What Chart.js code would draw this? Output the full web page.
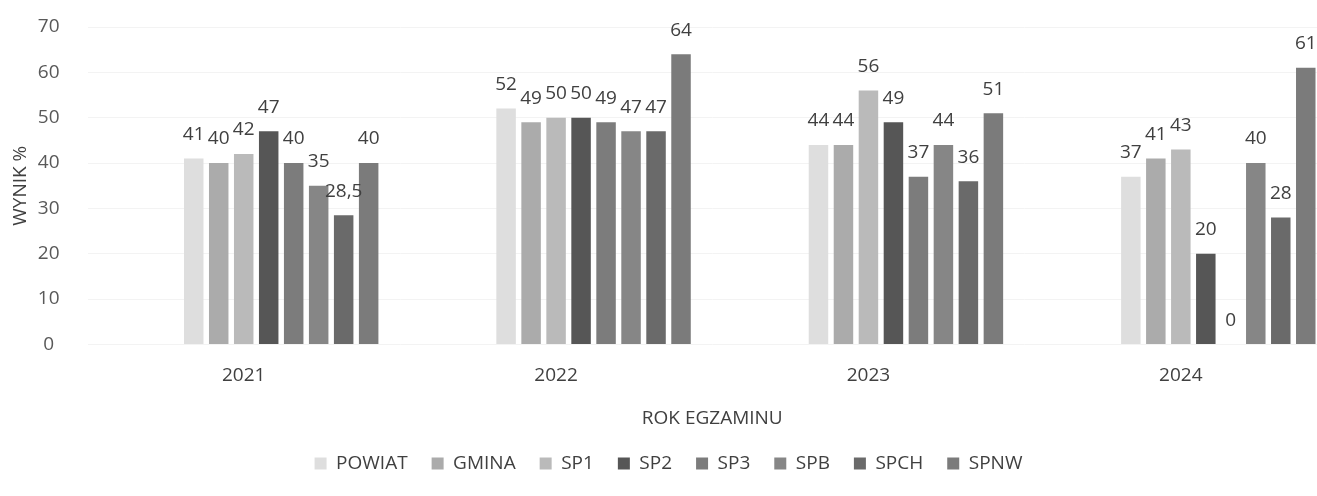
<!DOCTYPE html>
<html lang="pl">
<head>
<meta charset="utf-8">
<title>Wyniki egzaminu</title>
<script src="https://cdn.jsdelivr.net/npm/chart.js@4/dist/chart.umd.min.js"></script>
<style>
  html, body { margin: 0; padding: 0; background: #fff; overflow: hidden; }
  #wrap { position: relative; width: 1340px; height: 483px; }
</style>
</head>
<body>
<div id="wrap"><canvas id="chart"></canvas></div>
<script>
const years = ['2021', '2022', '2023', '2024'];

// wyniki w % dla każdej serii (kolejno lata 2021-2024)
const powiat = [41, 52, 44, 37];
const gmina  = [40, 49, 44, 41];
const sp1    = [42, 50, 56, 43];
const sp2    = [47, 50, 49, 20];
const sp3    = [40, 49, 37, 0];
const spb    = [35, 47, 44, 40];
const spch   = [28.5, 47, 36, 28];
const spnw   = [40, 64, 51, 61];

const seriesNames  = ['POWIAT', 'GMINA', 'SP1', 'SP2', 'SP3', 'SPB', 'SPCH', 'SPNW'];
const seriesValues = [powiat, gmina, sp1, sp2, sp3, spb, spch, spnw];
const seriesColors = ['#dedede', '#ababab', '#bababa', '#565656', '#7c7c7c', '#868686', '#6a6a6a', '#7b7b7b'];

const yTicks = [0, 10, 20, 30, 40, 50, 60, 70];

Chart.defaults.font.family = "'Open Sans', 'Noto Sans', sans-serif";
Chart.defaults.color = '#595959';

// w oryginalnym arkuszu przed seriami stoją trzy puste serie (przesuwają słupki w prawo)
const emptySeries = [0, 1, 2].map(i => ({
    label: '_empty' + i,
    data: years.map(() => null),
    backgroundColor: 'rgba(0,0,0,0)',
    isEmpty: true,
}));

const datasets = emptySeries.concat(seriesNames.map((name, i) => ({
    label: name,
    data: seriesValues[i],
    backgroundColor: seriesColors[i],
    borderWidth: 0,
})));

// etykiety wartości nad słupkami (przecinek dziesiętny)
const valueLabels = {
    id: 'valueLabels',
    afterDatasetsDraw(chart) {
        const ctx = chart.ctx;
        ctx.save();
        ctx.font = "19px 'Open Sans', sans-serif";
        ctx.fillStyle = '#404040';
        ctx.textAlign = 'center';
        ctx.textBaseline = 'middle';
        chart.data.datasets.forEach((ds, di) => {
            if (ds.isEmpty) return;
            const meta = chart.getDatasetMeta(di);
            meta.data.forEach((bar, j) => {
                const v = ds.data[j];
                if (v === null || v === undefined) return;
                ctx.fillText(String(v).replace('.', ','), bar.x, bar.y - 24);
            });
        });
        ctx.restore();
    }
};

new Chart(document.getElementById('chart'), {
    type: 'bar',
    data: { labels: years, datasets },
    options: {
        responsive: true,
        maintainAspectRatio: false,
        animation: false,
        categoryPercentage: 0.88,
        barPercentage: 0.78,
        layout: { padding: { top: 27, right: 3, left: 0, bottom: 0 } },
        plugins: {
            legend: {
                position: 'bottom',
                labels: {
                    filter: item => !item.text.startsWith('_empty'),
                    boxWidth: 12,
                    boxHeight: 12,
                    padding: 24,
                    color: '#404040',
                    font: { size: 19 },
                }
            },
            tooltip: { enabled: false },
        },
        scales: {
            x: {
                grid: { display: false, drawTicks: false },
                border: { display: false },
                ticks: { padding: 20, color: '#404040', font: { size: 19 } },
                title: {
                    display: true,
                    text: 'ROK EGZAMINU',
                    color: '#404040',
                    font: { size: 19 },
                    padding: { top: 0, bottom: 0 },
                }
            },
            y: {
                min: 0,
                max: 70,
                afterBuildTicks: axis => { axis.ticks = yTicks.map(v => ({ value: v })); },
                // odstęp etykiet nie powinien zabierać miejsca nad wykresem
                afterFit: axis => { axis.paddingTop = 0; },
                grid: { color: '#f3f3f3', drawTicks: false },
                border: { display: false },
                ticks: { padding: 28, crossAlign: 'center', color: '#595959', font: { size: 19 } },
                title: {
                    display: true,
                    text: 'WYNIK %',
                    color: '#404040',
                    font: { size: 19 },
                    padding: { top: 9, bottom: -22 },
                }
            }
        }
    },
    plugins: [valueLabels]
});
</script>
</body>
</html>
